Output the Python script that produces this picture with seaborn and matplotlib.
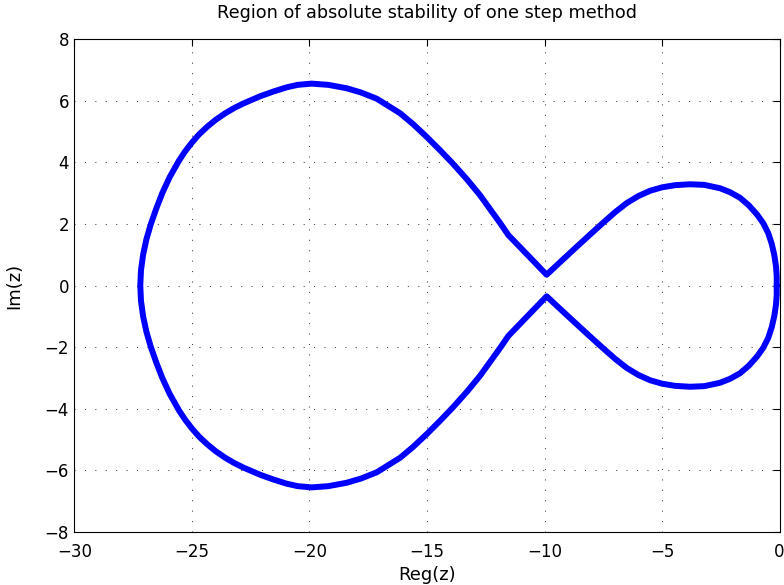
import numpy as np
import pandas as pd
import seaborn as sns
import matplotlib.pyplot as plt

# boundary of the stability region, upper half only
# goes from z=0 over the small right lobe, through the cusp near -10,
# then over the big left lobe down to the far left point on the real axis
re_upper = [-0.12, -0.12, -0.15, -0.22, -0.33, -0.48, -0.69, -0.95, -1.3,
            -1.68, -2.1, -2.53, -3.2, -3.81, -4.45, -5.0, -5.5, -6.0,
            -6.5, -7.0, -7.52, -8.1, -8.77, -9.35, -9.91,
            -11.54, -11.89, -12.74, -13.3, -13.91, -14.45, -15.0, -15.6,
            -16.15, -17.14, -17.8, -18.42, -19.2, -19.91, -20.5, -20.97,
            -21.55, -22.1, -22.8, -23.2, -23.6, -24.0, -24.35, -24.7,
            -25.02, -25.3, -25.56, -25.95, -26.26, -26.52, -26.75, -26.94,
            -27.08, -27.17, -27.2]
im_upper = [0.0, 0.3, 0.62, 0.98, 1.35, 1.7, 2.02, 2.3, 2.6,
            2.85, 3.03, 3.16, 3.27, 3.29, 3.26, 3.19, 3.08, 2.91,
            2.68, 2.38, 2.03, 1.63, 1.16, 0.75, 0.35,
            1.64, 2.03, 2.93, 3.45, 3.97, 4.4, 4.82, 5.25,
            5.6, 6.07, 6.27, 6.41, 6.52, 6.56, 6.52, 6.44,
            6.3, 6.15, 5.92, 5.77, 5.59, 5.38, 5.16, 4.91,
            4.63, 4.35, 4.05, 3.52, 3.01, 2.5, 2.0, 1.5,
            1.0, 0.5, 0.0]

xticks = [-30, -25, -20, -15, -10, -5, 0]
yticks = [-8, -6, -4, -2, 0, 2, 4, 6, 8]

# region is symmetric about the real axis -> lower half is the mirror
re_curve = re_upper + re_upper[::-1][1:]
im_curve = im_upper + [-v for v in im_upper[::-1][1:]]
df = pd.DataFrame({"re": re_curve, "im": im_curve})

sns.set_style("white")
plt.rcParams['font.family'] = ['DejaVu Sans']
plt.rcParams['axes.unicode_minus'] = True
plt.rcParams['text.color'] = 'black'
plt.rcParams['axes.labelcolor'] = 'black'

fig = plt.figure(figsize=(7.84, 5.85), dpi=100)
ax = fig.add_axes([0.095, 0.0911, 0.8993, 0.8417])

sns.lineplot(data=df, x="re", y="im", sort=False, estimator=None,
             color="#0000ff", linewidth=4.3, ax=ax)
for l in ax.lines:
    l.set_solid_joinstyle("round")
    l.set_solid_capstyle("round")

ax.set_xlim(-30, 0)
ax.set_ylim(-8, 8)
ax.set_xticks(xticks)
ax.set_yticks(yticks)

# matlab looking dotted grid
ax.grid(True, color="0.25", linestyle=(0, (1, 9)), linewidth=0.75)
ax.tick_params(direction="in", length=5, width=0.8, top=True, right=True,
               labelsize=12, colors="black")
ax.tick_params(axis="x", pad=8)
ax.tick_params(axis="y", pad=4)
for s in ax.spines.values():
    s.set_color("black")
    s.set_linewidth(0.8)

ax.set_title("Region of absolute stability of one step method", fontsize=12.7,
             pad=15, color="black")
ax.set_xlabel("Reg(z)", fontsize=13, labelpad=4)
ax.set_ylabel("Im(z)", fontsize=13, labelpad=15)

fig.savefig("out.png", dpi=100)
